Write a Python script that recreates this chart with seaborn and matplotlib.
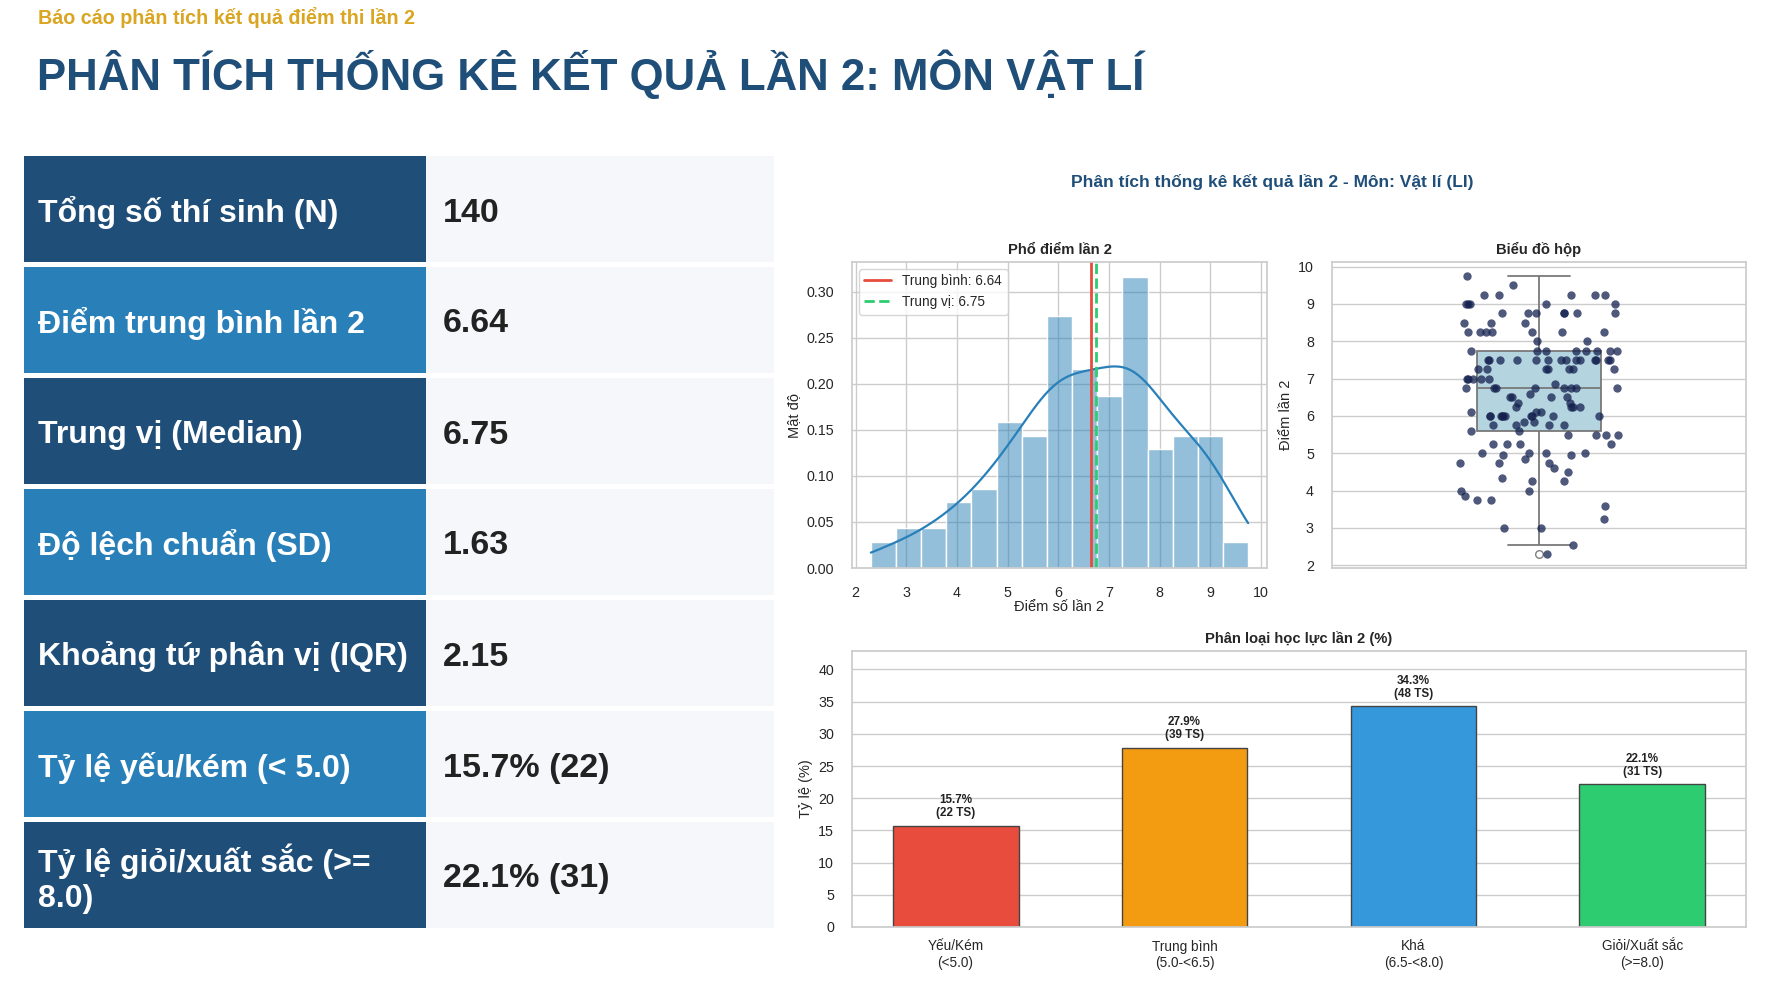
import numpy as np
import pandas as pd
import matplotlib
matplotlib.use("Agg")
import matplotlib.pyplot as plt
from matplotlib.patches import Rectangle
import seaborn as sns

# Điểm lần 2 (Vật lí) - mỗi mức điểm và số thí sinh đạt mức đó
score_levels = [2.3, 2.55, 3.0, 3.25, 3.6, 3.75, 3.85, 4.0, 4.25, 4.35, 4.5, 4.6,
                4.75, 4.85, 4.95, 5.0, 5.25, 5.5, 5.6, 5.75, 5.85, 6.0, 6.1,
                6.25, 6.35, 6.5, 6.6, 6.75, 6.85, 7.0, 7.25, 7.5, 7.75, 8.0,
                8.25, 8.5, 8.75, 9.0, 9.25, 9.5, 9.75]
score_counts = [1, 1, 2, 1, 1, 2, 1, 2, 2, 1, 1, 1,
                3, 1, 2, 4, 4, 4, 2, 4, 2, 10, 3,
                4, 2, 4, 1, 8, 1, 5, 7, 14, 8, 2,
                7, 3, 7, 5, 5, 1, 1]

# Bảng thống kê
stat_labels = ["Tổng số thí sinh (N)", "Điểm trung bình lần 2", "Trung vị (Median)",
               "Độ lệch chuẩn (SD)", "Khoảng tứ phân vị (IQR)", "Tỷ lệ yếu/kém (< 5.0)",
               "Tỷ lệ giỏi/xuất sắc (>=\n8.0)"]
stat_values = ["140", "6.64", "6.75", "1.63", "2.15", "15.7% (22)", "22.1% (31)"]

# Phân loại học lực
cat_labels = ["Yếu/Kém\n(<5.0)", "Trung bình\n(5.0-<6.5)", "Khá\n(6.5-<8.0)", "Giỏi/Xuất sắc\n(>=8.0)"]
cat_counts = [22, 39, 48, 31]
cat_colors = ["#e74c3c", "#f39c12", "#3498db", "#2ecc71"]

scores = pd.Series(np.repeat(score_levels, score_counts), name="Điểm lần 2")
n_total = len(scores)
mean_v = scores.mean()
median_v = scores.median()
cat_pct = [c / n_total * 100 for c in cat_counts]

sns.set_theme(style="whitegrid")
plt.rcParams['font.family'] = ['Liberation Sans', 'DejaVu Sans']

W, H = 1770, 990
fig = plt.figure(figsize=(W / 100, H / 100), dpi=100)
fig.patch.set_facecolor("white")

def box(x0, y0, x1, y1):
    return [x0 / W, 1 - y1 / H, (x1 - x0) / W, (y1 - y0) / H]

# ---- header + table on a pixel canvas
bg = fig.add_axes([0, 0, 1, 1])
bg.set_xlim(0, W)
bg.set_ylim(H, 0)
bg.axis("off")

bg.text(38, 17, "Báo cáo phân tích kết quả điểm thi lần 2", color="#DAA520",
        fontsize=14.2, fontweight="bold", va="center")
bg.text(37, 74, "PHÂN TÍCH THỐNG KÊ KẾT QUẢ LẦN 2: MÔN VẬT LÍ", color="#1F4E79",
        fontsize=31.5, fontweight="bold", va="center")

row_top, row_pitch, row_h = 156, 111, 106
for i, (lab, val) in enumerate(zip(stat_labels, stat_values)):
    y0 = row_top + i * row_pitch
    col = "#1F4E79" if i % 2 == 0 else "#2980B9"
    bg.add_patch(Rectangle((24, y0), 402, row_h, color=col, lw=0))
    bg.add_patch(Rectangle((426, y0), 348, row_h, color="#F5F7FB", lw=0))
    bg.text(38, y0 + row_h / 2 + 4, lab, color="white", fontsize=23, fontweight="bold",
            va="center", linespacing=1.2)
    bg.text(443, y0 + row_h / 2 + 4, val, color="#222222", fontsize=24.5, fontweight="bold",
            va="center")

bg.text(1272, 182, "Phân tích thống kê kết quả lần 2 - Môn: Vật lí (LI)", color="#1F4E79",
        fontsize=12.5, fontweight="bold", ha="center", va="center")

tick_fs = 10.3
label_fs = 10.5

# ---- histogram
ax1 = fig.add_axes(box(852, 262, 1267, 568))
sns.histplot(scores, bins=15, stat="density", kde=True, color="#2980b9", alpha=0.5,
             edgecolor="white", linewidth=1, line_kws={"linewidth": 1.6}, ax=ax1)
ax1.axvline(mean_v, color="#e74c3c", lw=2, label=f"Trung bình: {mean_v:.2f}")
ax1.axvline(median_v, color="#2ecc71", lw=2, ls="--", label=f"Trung vị: {median_v:.2f}")
ax1.set_xticks(range(2, 11))
ax1.set_title("Phổ điểm lần 2", fontsize=10.6, fontweight="bold", pad=6)
ax1.set_xlabel("Điểm số lần 2", fontsize=label_fs, labelpad=0)
ax1.set_ylabel("Mật độ", fontsize=label_fs)
ax1.tick_params(labelsize=tick_fs, pad=7)
ax1.legend(loc="upper left", fontsize=9.8, frameon=True)

# ---- box plot + strip
ax2 = fig.add_axes(box(1332, 262, 1746, 568))
sns.boxplot(y=scores, width=0.3, color="lightblue", linecolor="gray", linewidth=1.3,
            flierprops={"marker": "o", "markerfacecolor": "white", "markeredgecolor": "gray",
                        "markersize": 5.5}, ax=ax2)
np.random.seed(3)
sns.stripplot(y=scores, jitter=0.2, size=6, color="#14214f", alpha=0.75, ax=ax2)
ax2.set_yticks(range(2, 11))
ax2.set_title("Biểu đồ hộp", fontsize=10.6, fontweight="bold", pad=6)
ax2.set_ylabel("Điểm lần 2", fontsize=label_fs)
ax2.tick_params(labelsize=tick_fs, pad=7)

# ---- category bar chart
ax3 = fig.add_axes(box(852, 651, 1746, 927))
sns.barplot(x=cat_labels, y=cat_pct, hue=cat_labels, palette=cat_colors, legend=False,
            width=0.55, edgecolor="#444444", linewidth=1, saturation=1, ax=ax3)
for i, (p, c) in enumerate(zip(cat_pct, cat_counts)):
    ax3.text(i, p + 1, f"{p:.1f}%\n({c} TS)", ha="center", va="bottom",
             fontsize=8.4, fontweight="bold", linespacing=1.1, color="#222222")
ax3.set_xlim(-0.275 - 0.1775, 3.275 + 0.1775)
ax3.set_ylim(0, max(cat_pct) * 1.25)
ax3.set_yticks(range(0, 45, 5))
ax3.set_title("Phân loại học lực lần 2 (%)", fontsize=10.6, fontweight="bold", pad=6)
ax3.set_ylabel("Tỷ lệ (%)", fontsize=label_fs)
ax3.tick_params(labelsize=tick_fs, pad=7)
ax3.tick_params(axis="x", labelsize=9.8, pad=3)

fig.savefig("out.png", dpi=100)
